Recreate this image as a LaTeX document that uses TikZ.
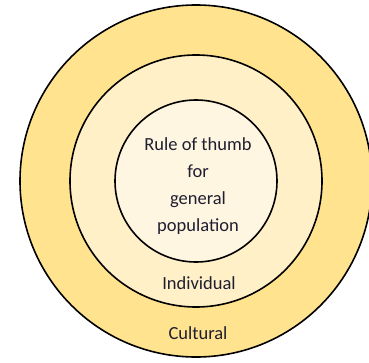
\documentclass[tikz,border=0pt]{standalone}
\usepackage{fontspec}
\setmainfont{Carlito}
\definecolor{ringout}{HTML}{FFE38F}
\definecolor{ringmid}{HTML}{FFF0C8}
\definecolor{ringin}{HTML}{FFF6E1}
\definecolor{labeltext}{HTML}{1E1E30}
\begin{document}
\begin{tikzpicture}[x=1pt,y=1pt,
	ring/.style={draw=black,line width=1.6pt},
	lab/.style={text=labeltext,font=\fontsize{18.5}{27}\selectfont,align=center}]
	\useasboundingbox (0,0) rectangle (369,362);
	\coordinate (c) at (196,181);

	% Rings, outside in
	\fill[ringout] (c) circle (176);
	\draw[ring] (c) circle (176);
	\draw[ring,fill=ringmid] (c) circle (126);
	\draw[ring,fill=ringin] (c) circle (81);

	% Labels
	\node[lab] (rule) at (198,176) {Rule of thumb\\for\\general\\population};
	\node[lab] (indiv) at (199,79) {Individual};
	\node[lab] (cult) at (198,29) {Cultural};

\end{tikzpicture}
\end{document}
